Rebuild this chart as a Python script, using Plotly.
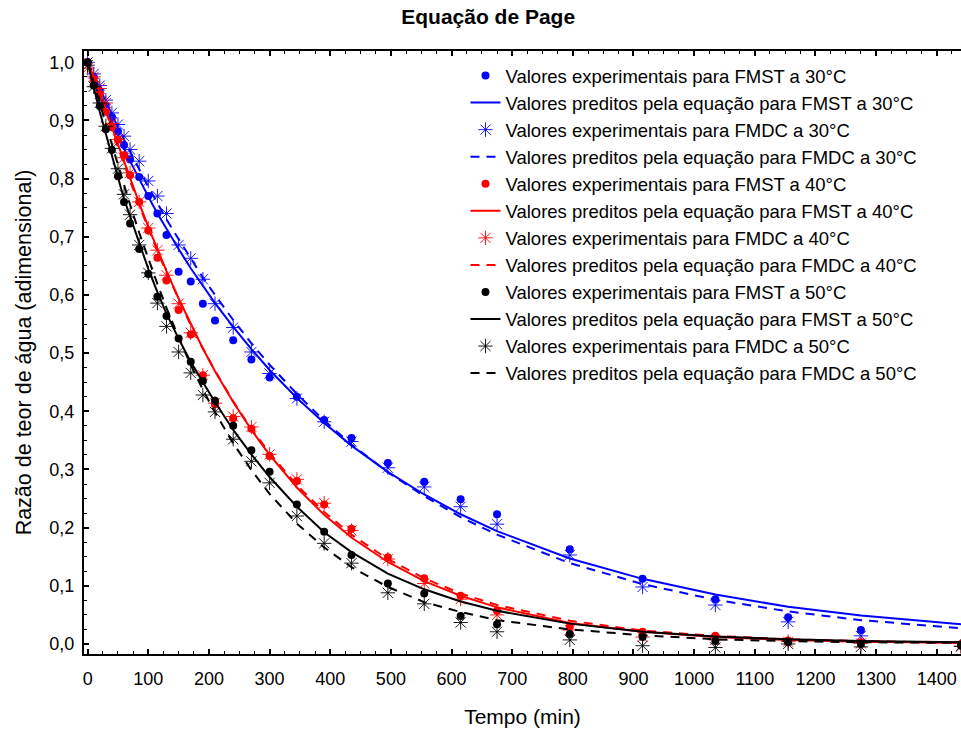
import plotly.graph_objects as go

# Tempo (min)
tempo = [0, 10, 20, 30, 40, 50, 60, 70, 85, 100, 115, 130, 150, 170, 190, 210, 240, 270,
         300, 345, 390, 435, 495, 555, 615, 675, 795, 915, 1035, 1155, 1275, 1440]

# Experimental values
exp_fmst_30 = [1.0, 0.975, 0.95, 0.925, 0.906, 0.881, 0.858, 0.833, 0.803, 0.770, 0.740, 0.703,
               0.640, 0.623, 0.585, 0.556, 0.522, 0.489, 0.458, 0.425, 0.385, 0.354, 0.311,
               0.279, 0.249, 0.223, 0.163, 0.112, 0.077, 0.046, 0.024, None]
exp_fmdc_30 = [1.0, 0.98, 0.96, 0.935, 0.913, 0.893, 0.873, 0.850, 0.830, 0.796, 0.770, 0.740,
               0.686, 0.663, 0.627, 0.585, 0.544, 0.502, 0.465, 0.422, 0.382, 0.348, 0.303,
               0.270, 0.236, 0.206, 0.153, 0.098, 0.067, 0.038, 0.014, None]
exp_fmst_40 = [1.0, 0.97, 0.945, 0.915, 0.889, 0.867, 0.840, 0.806, 0.760, 0.711, 0.664, 0.625,
               0.574, 0.532, 0.462, 0.412, 0.388, 0.370, 0.323, 0.280, 0.240, 0.198, 0.149,
               0.113, 0.083, 0.057, 0.030, 0.021, 0.014, 0.006, 0.003, 0.0]
exp_fmdc_40 = [0.99, 0.975, 0.955, 0.93, 0.895, 0.867, 0.836, 0.81, 0.760, 0.715, 0.677, 0.634,
               0.585, 0.535, 0.462, 0.414, 0.391, 0.373, 0.326, 0.283, 0.242, 0.195, 0.146,
               0.104, 0.077, 0.050, 0.024, 0.012, 0.007, 0.004, 0.001, -0.004]
exp_fmst_50 = [1.0, 0.96, 0.925, 0.885, 0.849, 0.804, 0.760, 0.723, 0.679, 0.636, 0.597, 0.564,
               0.525, 0.485, 0.452, 0.418, 0.375, 0.333, 0.296, 0.240, 0.193, 0.153, 0.104,
               0.087, 0.048, 0.034, 0.017, 0.012, 0.005, 0.003, 0.0, -0.003]
exp_fmdc_50 = [0.995, 0.958, 0.93, 0.89, 0.852, 0.817, 0.773, 0.738, 0.686, 0.638, 0.586, 0.546,
               0.502, 0.466, 0.428, 0.399, 0.352, 0.314, 0.277, 0.220, 0.173, 0.139, 0.088,
               0.069, 0.037, 0.021, 0.007, -0.003, -0.006, 0.0, -0.005, -0.004]

# Predicted values (Page equation)
pred_fmst_30 = [1.0, 0.972, 0.945, 0.921, 0.897, 0.874, 0.852, 0.830, 0.799, 0.769, 0.740, 0.713,
                0.679, 0.646, 0.615, 0.586, 0.545, 0.507, 0.471, 0.423, 0.380, 0.341, 0.296,
                0.257, 0.223, 0.194, 0.147, 0.112, 0.085, 0.064, 0.049, 0.034]
pred_fmdc_30 = [1.0, 0.977, 0.954, 0.932, 0.909, 0.888, 0.867, 0.846, 0.816, 0.786, 0.758, 0.730,
                0.696, 0.662, 0.630, 0.600, 0.557, 0.517, 0.480, 0.430, 0.384, 0.343, 0.295,
                0.254, 0.218, 0.188, 0.139, 0.103, 0.076, 0.056, 0.041, 0.027]
pred_fmst_40 = [1.0, 0.975, 0.946, 0.917, 0.887, 0.857, 0.828, 0.800, 0.758, 0.717, 0.679, 0.641,
                0.594, 0.550, 0.508, 0.469, 0.416, 0.368, 0.325, 0.269, 0.222, 0.183, 0.141,
                0.108, 0.083, 0.063, 0.036, 0.021, 0.012, 0.007, 0.004, 0.002]
pred_fmdc_40 = [1.0, 0.973, 0.943, 0.913, 0.883, 0.854, 0.825, 0.796, 0.754, 0.714, 0.675, 0.639,
                0.592, 0.548, 0.508, 0.470, 0.417, 0.370, 0.328, 0.273, 0.227, 0.188, 0.146,
                0.113, 0.087, 0.067, 0.040, 0.023, 0.014, 0.008, 0.005, 0.002]
pred_fmst_50 = [1.0, 0.955, 0.915, 0.877, 0.838, 0.800, 0.765, 0.735, 0.688, 0.645, 0.605, 0.568,
                0.525, 0.485, 0.450, 0.416, 0.368, 0.326, 0.287, 0.236, 0.192, 0.158, 0.121,
                0.094, 0.073, 0.057, 0.035, 0.021, 0.013, 0.008, 0.005, 0.003]
pred_fmdc_50 = [1.0, 0.966, 0.930, 0.893, 0.858, 0.822, 0.788, 0.755, 0.707, 0.662, 0.619, 0.578,
                0.527, 0.480, 0.437, 0.398, 0.345, 0.299, 0.258, 0.207, 0.166, 0.132, 0.098,
                0.072, 0.055, 0.041, 0.025, 0.015, 0.008, 0.005, 0.003, 0.002]

x_ticks = [0, 100, 200, 300, 400, 500, 600, 700, 800, 900, 1000, 1100, 1200, 1300, 1400]
y_ticks = [0.0, 0.1, 0.2, 0.3, 0.4, 0.5, 0.6, 0.7, 0.8, 0.9, 1.0]

FONT = "Liberation Sans, Arial, Helvetica, sans-serif"
BLUE, RED, BLACK = "#0000FF", "#FF0000", "#000000"

series = [
    ("Valores experimentais para FMST a 30°C", exp_fmst_30, BLUE, "dot"),
    ("Valores preditos pela equação para FMST a 30°C", pred_fmst_30, BLUE, "solid"),
    ("Valores experimentais para FMDC a 30°C", exp_fmdc_30, BLUE, "star"),
    ("Valores preditos pela equação para FMDC a 30°C", pred_fmdc_30, BLUE, "dash"),
    ("Valores experimentais para FMST a 40°C", exp_fmst_40, RED, "dot"),
    ("Valores preditos pela equação para FMST a 40°C", pred_fmst_40, RED, "solid"),
    ("Valores experimentais para FMDC a 40°C", exp_fmdc_40, RED, "star"),
    ("Valores preditos pela equação para FMDC a 40°C", pred_fmdc_40, RED, "dash"),
    ("Valores experimentais para FMST a 50°C", exp_fmst_50, BLACK, "dot"),
    ("Valores preditos pela equação para FMST a 50°C", pred_fmst_50, BLACK, "solid"),
    ("Valores experimentais para FMDC a 50°C", exp_fmdc_50, BLACK, "star"),
    ("Valores preditos pela equação para FMDC a 50°C", pred_fmdc_50, BLACK, "dash"),
]

fig = go.Figure()
for name, vals, color, kind in series:
    if kind == "dot":
        fig.add_trace(go.Scatter(x=tempo, y=vals, mode="markers", name=name,
                                 marker=dict(symbol="circle", size=8, color=color,
                                             line=dict(width=0))))
    elif kind == "star":
        fig.add_trace(go.Scatter(x=tempo, y=vals, mode="markers", name=name,
                                 marker=dict(symbol="asterisk-open", size=12, color=color,
                                             line=dict(width=0.9, color=color))))
    else:
        fig.add_trace(go.Scatter(x=tempo, y=vals, mode="lines", name=name,
                                 line=dict(color=color, width=2,
                                           dash="solid" if kind == "solid" else "9px,7px")))

fig.update_layout(
    width=961, height=736,
    margin=dict(l=84, r=0, t=51, b=82),
    paper_bgcolor="white", plot_bgcolor="white",
    separators=",.",
    font=dict(family=FONT, size=18, color="black"),
    title=dict(text="<b>Equação de Page</b>", x=0.508, xref="container", xanchor="center",
               y=0.977, yref="container", yanchor="middle",
               font=dict(family=FONT, size=21, color="black")),
    showlegend=True,
    legend=dict(x=0.435, xanchor="left", y=0.99, yanchor="top",
                bgcolor="rgba(0,0,0,0)", borderwidth=0,
                font=dict(family=FONT, size=18.5, color="black"),
                itemsizing="trace", tracegroupgap=0),
)

fig.update_xaxes(
    range=[-6, 1440], tickmode="array", tickvals=x_ticks,
    ticks="inside", ticklen=5, tickwidth=1.5, tickcolor="black",
    showline=True, linewidth=2, linecolor="black", mirror="allticks",
    showgrid=False, zeroline=False, ticklabelstandoff=7,
    minor=dict(dtick=25, tick0=0, ticks="inside", ticklen=3, tickwidth=1.2, tickcolor="black"),
    tickfont=dict(family=FONT, size=18, color="black"),
    title=dict(text="Tempo (min)", font=dict(family=FONT, size=21, color="black"), standoff=22),
)
fig.update_yaxes(
    range=[-0.0172, 1.0194], tickmode="array", tickvals=y_ticks, tickformat=".1f",
    ticks="inside", ticklen=5, tickwidth=1.5, tickcolor="black",
    showline=True, linewidth=2, linecolor="black", mirror=False,
    showgrid=False, zeroline=False, ticklabelstandoff=4,
    minor=dict(dtick=0.025, tick0=0, ticks="inside", ticklen=3, tickwidth=1.2, tickcolor="black"),
    tickfont=dict(family=FONT, size=18, color="black"),
    title=dict(text="Razão de teor de água (adimensional)",
               font=dict(family=FONT, size=21.5, color="black"), standoff=12),
)

fig.write_html("out.html",
               config={"displayModeBar": False},
               post_script="document.body.style.margin='0';document.body.style.overflow='hidden';")
